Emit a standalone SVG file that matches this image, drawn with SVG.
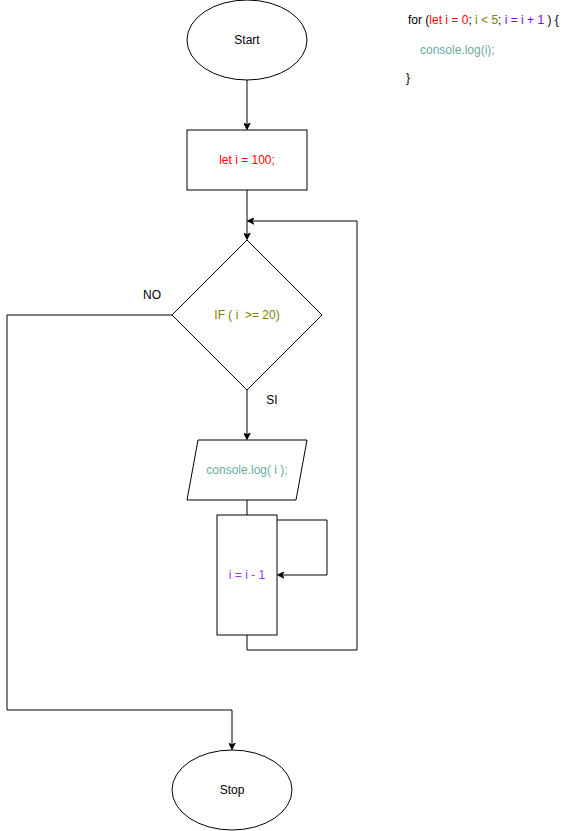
<svg xmlns="http://www.w3.org/2000/svg" width="578" height="831" viewBox="0 0 578 831">
<style>
.s{fill:#fff;stroke:#000;stroke-width:1}
.c{fill:none;stroke:#000;stroke-width:1}
text{font-family:"Liberation Sans",Arial,sans-serif;font-size:12px}
.m{text-anchor:middle}
</style>
<defs>
<marker id="a" viewBox="0 0 10 10" refX="9" refY="5" markerWidth="7" markerHeight="7" orient="auto" markerUnits="userSpaceOnUse">
<path d="M0,0 L10,5 L0,10 L3,5 Z" fill="#000" stroke="#000"/>
</marker>
</defs>
<rect width="578" height="831" fill="#fff"/>
<g id="connectors">
<path class="c" d="M247,80 L247,129" marker-end="url(#a)"/>
<path class="c" d="M247,190 L247,239" marker-end="url(#a)"/>
<path class="c" d="M247,390 L247,439" marker-end="url(#a)"/>
<path class="c" d="M247,500 L247,515"/>
<path class="c" d="M247,635 L247,650 L357,650 L357,221 L248,221" marker-end="url(#a)"/>
<path class="c" d="M277,520 L327,520 L327,575 L278,575" marker-end="url(#a)"/>
<path class="c" d="M172,315 L7,315 L7,710 L232,710 L232,749" marker-end="url(#a)"/>
<text x="152" y="299" class="m">NO</text>
<text x="272" y="404" class="m">SI</text>
</g>
<g id="start">
<ellipse class="s" cx="247" cy="40" rx="60" ry="40"/>
<text x="247" y="44" class="m">Start</text>
</g>
<g id="init">
<rect class="s" x="187" y="130" width="120" height="60"/>
<text x="247" y="164" class="m" fill="#FF0000">let i = 100;</text>
</g>
<g id="decision">
<path class="s" d="M247,240 L322,315 L247,390 L172,315 Z"/>
<text x="247" y="319" class="m" fill="#808000">IF ( i&#160; &gt;= 20)</text>
</g>
<g id="output">
<path class="s" d="M198,440 L307,440 L296,500 L187,500 Z"/>
<text x="247" y="474" class="m" fill="#67AB9F">console.log( i );</text>
</g>
<g id="decrement">
<rect class="s" x="217" y="515" width="60" height="120"/>
<text x="247" y="579" class="m" fill="#9933FF">i = i - 1</text>
</g>
<g id="stop">
<ellipse class="s" cx="232" cy="790" rx="60" ry="40"/>
<text x="232" y="794" class="m">Stop</text>
</g>
<g id="code">
<text x="408" y="24"><tspan fill="#000">for (</tspan><tspan fill="#FF0000">let i = 0</tspan><tspan fill="#000">; </tspan><tspan fill="#808000">i &lt; 5</tspan><tspan fill="#000">; </tspan><tspan fill="#7F00FF">i = i + 1</tspan><tspan fill="#000"> ) {</tspan></text>
<text x="420" y="54" fill="#67AB9F">console.log(i);</text>
<text x="406" y="82" fill="#000">}</text>
</g>
</svg>
